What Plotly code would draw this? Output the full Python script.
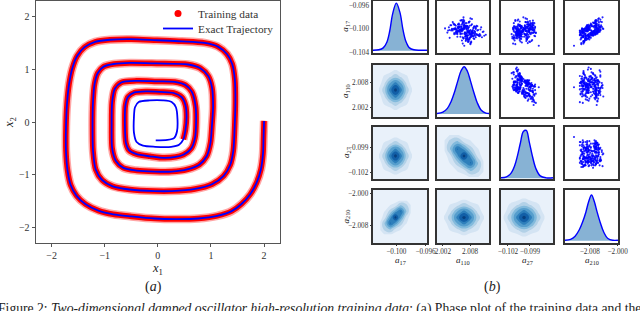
import plotly.graph_objects as go

# ---------------- Panel (a): phase-plot trajectory ----------------
traj_x = [2.00, 1.99, 1.98, 1.94, 1.86, 1.74, 1.58, 1.39, 1.12, 0.76, 0.35, -0.06, -0.50, -0.84, -1.12,
          -1.36, -1.53, -1.64, -1.70, -1.73, -1.73, -1.71, -1.67, -1.61, -1.52, -1.38, -1.18, -0.90, -0.50,
          -0.02, 0.45, 0.88, 1.13, 1.30, 1.40, 1.45, 1.46, 1.45, 1.42, 1.36, 1.24, 1.02, 0.70, 0.26, -0.06,
          -0.53, -0.85, -1.05, -1.17, -1.22, -1.23, -1.22, -1.19, -1.13, -1.02, -0.83, -0.53, -0.02, 0.57,
          0.80, 0.95, 1.02, 1.04, 1.02, 0.99, 0.92, 0.78, 0.55, 0.26, -0.06,
          -0.40, -0.65, -0.79, -0.86, -0.87, -0.86, -0.81, -0.69, -0.40, -0.02, 0.32, 0.52, 0.64, 0.71, 0.72,
          0.70, 0.63, 0.48, 0.13, -0.15,
          -0.40, -0.54, -0.60, -0.62, -0.61, -0.56, -0.44, -0.21, 0.05, 0.30, 0.45, 0.52, 0.54, 0.52, 0.48,
          0.40, 0.25, -0.05, -0.28, -0.40, -0.45, -0.45, -0.43, -0.36, -0.15, 0.10, 0.26, 0.34, 0.37, 0.36,
          0.31, 0.18, -0.04]
traj_y = [0.02, -0.30, -0.60, -0.90, -1.15, -1.37, -1.55, -1.69, -1.78, -1.83, -1.84, -1.83, -1.79, -1.75, -1.68,
          -1.56, -1.40, -1.20, -0.92, -0.55, -0.10, 0.35, 0.73, 1.02, 1.25, 1.42, 1.52, 1.56, 1.57,
          1.55, 1.53, 1.50, 1.43, 1.29, 1.10, 0.80, 0.40, 0.00, -0.55, -0.82, -1.02, -1.18, -1.27, -1.31, -1.31,
          -1.28, -1.22, -1.10, -0.90, -0.55, -0.06, 0.40, 0.73, 0.93, 1.05, 1.10, 1.12, 1.11, 1.09,
          1.02, 0.87, 0.65, 0.30, -0.05, -0.40, -0.65, -0.81, -0.90, -0.94, -0.94,
          -0.92, -0.87, -0.74, -0.50, -0.06, 0.38, 0.63, 0.75, 0.78, 0.77, 0.76, 0.70, 0.57, 0.30, 0.00,
          -0.30, -0.50, -0.62, -0.68, -0.65,
          -0.61, -0.54, -0.40, -0.06, 0.32, 0.48, 0.56, 0.58, 0.57, 0.55, 0.47, 0.32, 0.10, -0.15, -0.33,
          -0.43, -0.47, -0.47, -0.45, -0.38, -0.20, 0.10, 0.28, 0.38, 0.41, 0.41, 0.38, 0.28, 0.05, -0.18,
          -0.30, -0.34, -0.35]
train_end = 105          # training data covers traj[0:train_end]
phase_ticks = [-2, -1, 0, 1, 2]
phase_ticktext = ["\u22122", "\u22121", "0", "1", "2"]
phase_range = [-2.3, 2.3]

# ---------------- Panel (b): posterior samples (standardised draws, read/estimated) ----------------
var_labels = ["<i>a</i><sub>17</sub>", "<i>a</i><sub>110</sub>", "<i>a</i><sub>27</sub>", "<i>a</i><sub>210</sub>"]
post_mean = [-0.1004, 2.0069, -0.0999, -2.0079]
post_sd = [0.0009, 0.0017, 0.0010, 0.0021]

a17_z = [0.3, -1.2, 0.8, -0.4, 1.5, -0.1, 0.6, -2.1, 1.1, -0.7,
         0.0, 0.9, -1.5, 0.2, -0.3, 1.8, -0.9, 0.4, -0.6, 1.3,
         -1.1, 0.1, 2.2, -0.2, 0.7, -1.8, 0.5, -0.5, 1.0, -1.3,
         0.2, -0.8, 1.6, -0.4, 0.3, -2.5, 0.9, -0.1, 1.2, -1.0,
         0.0, 0.6, -1.6, 0.4, -0.3, 2.0, -0.7, 0.8, -1.4, 0.1,
         -0.2, 1.4, -0.9, 0.5, -0.6, 1.7, -1.2, 0.2, -0.4, 0.9,
         -2.0, 0.3, 1.1, -0.8, 0.0, 0.7, -1.3, 0.4, -0.1, 2.6,
         -0.5, 0.6, -1.7, 0.2, 1.0, -0.6, 0.3, -1.1, 1.5, -0.2,
         0.8, -0.9, 0.1, -2.3, 1.2, -0.3, 0.5, -1.0, 0.9, -0.4,
         1.9, -0.7, 0.0, -1.5, 0.6, 0.4, -0.2, 1.3, -1.2, 0.7,
         -0.8, 0.2, 2.3, -0.6, 0.1, -1.9, 0.8, -0.3, 1.1, -1.4,
         0.5, -0.1, 1.6, -0.9, 0.3, -0.5, 1.0, -2.8, 0.4, -0.7,
         -0.4, 0.9, 0.1, -1.3, 0.6, 1.2, -0.8, 0.0, 1.7, -0.2,
         0.5, -1.0, -0.3, 0.8, -1.9, 0.3, 1.0, -0.5, 0.2, -0.7,
         1.3, -0.1, -1.2, 0.4, 0.7, -0.6, 2.1, -0.9, 0.0, 0.6,
         -1.5, 0.2, 0.9, -0.3, -0.8, 1.5, -0.4, 0.3, -2.2, 1.1,
         0.1, -0.6, 0.4, 1.8, -1.1, 0.0, -0.2, 0.8, 0.5, -1.4,
         -0.7, 1.0, -0.1, 0.3, 2.4, -0.9, 0.6, -1.6, 0.2, -0.3,
         0.9, -0.4, 1.4, -1.0, 0.1, -0.5, 0.7, -1.2, 1.1, 0.0,
         -0.2, 0.4, -2.0, 0.6, -0.8, 1.2, 0.3, -0.1, -0.6, 1.6,
         0.2, -1.3, 0.8, -0.4, 0.0, 1.9, -0.7, 0.5, -1.0, 0.3,
         -0.5, 0.7, -0.2, 1.3, -1.7, 0.1, 0.9, -0.3, 0.4, -0.9,
         1.0, -0.1, 0.6, -1.4, 0.3, -0.6, 2.0, -0.8, 0.2, -0.2,
         -1.1, 0.5, -0.3, 0.8, 0.0, -2.4, 1.2, -0.5, 0.7, 0.1]
a110_z = [-0.5, 0.7, 1.2, -1.4, 0.2, 0.9, -0.8, 0.4, -0.1, 1.6,
          -1.1, 0.3, 0.6, -2.0, 1.0, -0.3, 0.1, 1.4, -0.6, -0.9,
          0.8, -1.6, -0.2, 0.5, 2.1, -0.4, 1.1, -1.2, 0.0, 0.6,
          -0.7, 1.8, -0.3, 0.2, -1.3, 0.7, -0.5, 2.4, -0.9, 0.3,
          1.2, -0.1, 0.4, -1.7, 0.9, -0.6, 1.5, 0.1, -0.2, -2.2,
          0.6, -0.8, 1.0, 0.2, -1.4, 0.5, -0.3, 1.7, -1.0, 0.0,
          0.4, -1.1, 0.8, 2.0, -0.5, -0.9, 0.3, -1.5, 1.3, -0.2,
          -0.4, 1.1, 0.1, -0.7, 0.6, 1.9, -1.2, 0.0, -0.3, 0.9,
          1.4, 0.2, -1.8, 0.7, -0.1, 0.5, -2.6, 1.0, 0.3, -0.6,
          -0.2, 0.8, -0.9, 1.2, 0.0, -1.3, 0.6, -0.4, 2.2, -0.8,
          0.3, -0.5, 0.9, -1.0, 1.6, 0.1, -0.7, 0.4, -1.9, 1.1,
          -1.2, 0.5, -0.2, 0.8, -0.6, 1.3, 0.2, -0.1, -1.4, 2.7,
          0.6, -0.2, -1.0, 0.3, 1.4, -0.7, 0.1, 0.9, -1.6, 0.4,
          -0.3, 1.1, 0.0, -0.8, 0.5, 2.0, -1.2, 0.2, -0.5, 0.8,
          -1.4, 0.3, 0.7, -0.1, -2.1, 0.9, -0.4, 1.3, 0.6, -0.9,
          0.2, -0.6, 1.6, -1.1, 0.4, 0.0, 1.0, -0.3, 0.8, -1.8,
          -0.7, 1.5, -0.2, 0.6, -1.0, 0.3, 2.3, -0.5, -1.3, 0.1,
          1.2, 0.0, -0.9, -0.4, 0.7, 1.8, -0.1, 0.5, -0.6, -2.3,
          0.3, 0.9, -1.5, 0.1, -0.3, 0.6, -0.8, 1.4, -0.2, 1.0,
          -1.0, 0.4, 0.8, -0.5, 1.7, -1.3, 0.2, -0.7, 0.0, 0.5,
          0.7, -2.0, 0.2, 1.1, -0.4, -0.1, 0.6, -0.9, 1.9, -0.6,
          -0.1, 0.5, -1.2, 0.9, 0.3, -0.8, 1.2, 0.0, -0.4, 2.5,
          1.5, -0.7, 0.4, -0.2, -1.7, 0.8, -0.5, 0.1, 1.0, -1.1,
          -0.6, 0.2, 1.3, -0.9, 0.6, -0.3, -1.4, 0.7, -0.1, 0.4]
a27_z = [0.9, -1.3, -0.3, 1.2, -1.3, -0.3, 0.0, 0.9, -0.7, -0.7,
         0.3, 0.7, -1.3, 1.4, -0.3, -0.5, 1.5, -0.9, 1.0, -0.7,
         -0.2, 1.3, -0.7, 0.8, -0.8, -1.2, 0.0, 0.1, 0.9, -0.5,
         -0.6, -0.5, 1.3, -0.4, 1.5, -1.1, -1.3, -0.7, 0.5, 1.6,
         -0.3, -1.2, 0.5, 1.0, -0.8, 1.3, -1.0, 0.5, -0.8, 1.5,
         -0.8, 1.3, -0.4, -1.4, 0.5, 0.3, 0.4, -1.3, 1.7, -0.8,
         0.8, 0.1, 0.2, -1.3, -0.9, 0.6, 0.6, 0.2, -0.2, 0.0,
         -0.5, -0.3, 1.2, 0.3, 0.2, -1.6, 0.8, -1.5, 1.0, -0.5,
         -0.3, -0.9, 0.7, 0.6, -0.5, 1.1, 1.4, -0.8, -1.2, 0.9,
         -1.1, 0.3, 0.4, -0.3, 1.6, 0.3, -1.1, 0.7, -0.9, -0.2,
         0.4, -0.1, 0.5, -0.2, -0.7, 1.1, -1.0, -0.2, 1.4, -1.5,
         0.8, -1.3, 0.7, 0.4, -0.1, -0.4, -0.3, 2.1, 0.1, -0.9,
         0.5, -0.5, 0.7, -1.3, -0.3, 1.2, -0.4, 0.8, 0.3, -0.2,
         -0.9, -0.3, 1.4, 0.2, 0.4, -1.4, 0.7, -0.9, 0.8, 0.7,
         0.9, 0.6, -1.2, -0.4, 1.2, 0.2, -1.1, -0.4, 0.7, 0.3,
         0.4, -0.9, -0.5, 1.4, -0.8, 1.5, -0.6, -0.6, -0.2, 1.3,
         0.0, -0.6, -1.0, 0.6, 0.8, -0.9, -0.8, 1.6, 0.5, -1.0,
         -0.5, 1.0, 0.0, -0.7, 0.3, -0.7, -1.4, 0.5, 0.0, 1.7,
         1.1, -0.7, 1.1, 0.6, -0.9, -0.8, 1.3, -0.6, -0.5, -0.1,
         -0.1, 0.7, -0.4, -1.1, -0.5, 0.9, 1.0, -0.1, -0.8, 0.5,
         0.0, 0.6, 1.2, -0.8, -0.5, 0.9, -0.3, -0.7, -0.5, 1.2,
         -0.9, 0.3, 0.8, 0.6, -0.5, -0.8, -0.2, 0.8, 0.1, -1.0,
         -0.4, -0.5, 0.9, -0.4, 1.1, 0.2, -0.8, 0.3, -0.7, 1.5,
         0.1, 1.2, -1.1, 0.5, 0.4, -1.4, 0.8, -1.0, 1.0, -0.5]
a210_z = [-0.2, -0.1, 0.8, -1.1, 0.7, 1.0, -0.3, -0.8, 1.5, -0.7,
          0.7, -0.5, -0.7, 1.0, -0.8, 1.4, -0.6, -1.1, 0.8, 0.8,
          -0.9, 0.6, 1.4, -0.9, 1.4, -0.7, -1.1, 0.3, 0.1, 0.1,
          1.4, -0.9, 0.4, 0.0, -0.9, -1.2, 1.3, -0.3, -0.2, -0.1,
          -0.8, 0.8, -0.1, -0.1, 0.4, 0.7, -1.4, 1.6, -0.6, -1.4,
          0.4, 0.1, -0.4, 1.7, -0.6, 1.6, -1.2, -0.8, 0.6, 0.2,
          -0.9, -1.0, 1.1, 0.2, -0.4, 1.3, -0.6, -0.4, 0.9, 1.7,
          -0.9, 0.6, -0.5, -1.0, 0.9, 0.4, 1.4, -1.0, 0.5, -1.0,
          1.4, -0.4, -0.6, -1.2, 0.2, -1.4, 0.9, -0.2, 0.4, 0.8,
          0.8, 0.7, 0.5, -0.5, -0.4, 0.9, -1.1, 0.8, -0.9, -0.2,
          0.3, -0.4, 1.1, -1.3, 1.4, -0.9, 0.5, 0.5, -0.4, -1.2,
          -0.7, 0.5, 1.2, -0.2, 1.1, -0.7, -0.1, -2.2, 1.8, -0.2,
          0.1, -0.2, 1.1, -0.6, 0.0, 1.2, -1.4, 0.6, 0.8, 1.1,
          -0.2, -0.2, -1.0, 1.2, -0.8, -0.9, 0.8, 0.6, -0.5, -0.3,
          0.8, 0.9, -1.0, -0.6, 1.0, 0.0, 0.8, -0.6, 1.3, -0.3,
          -0.3, -0.2, 0.7, 0.9, -1.2, 0.7, 0.6, -1.0, -0.9, 0.7,
          -1.2, 0.1, 1.1, 0.7, -0.6, -0.6, 1.3, 0.8, -0.6, -0.6,
          0.3, 0.6, -1.1, 0.7, 1.2, 0.4, -0.2, -1.3, 1.2, -1.0,
          -0.1, 1.0, 0.9, -0.9, 0.9, -1.3, 0.8, -0.1, -0.4, 0.2,
          0.8, -0.3, -0.9, -0.3, 0.5, 0.8, -1.1, 0.4, -0.2, 0.6,
          -0.1, -0.2, -0.4, 0.2, -1.4, 1.1, 0.3, 1.3, -0.9, 0.7,
          0.1, -0.5, 1.1, 0.9, -0.7, -0.4, 0.3, 0.6, -0.8, 0.1,
          0.7, -0.5, -0.4, -0.3, 1.1, 0.7, 0.9, -1.1, 0.1, -1.3,
          -1.0, 1.1, 0.2, -0.5, 0.2, -0.9, 0.1, 1.0, -0.4, 1.0]
samples_z = [a17_z, a110_z, a27_z, a210_z]

# axis ranges / ticks for the 4x4 grid
col_ranges = [[-0.1032, -0.0958], [2.0007, 2.0122], [-0.10295, -0.09586], [-2.0151, -1.9999]]
row_ranges = [[-0.10417, -0.09517], [1.9996, 2.01208], [-0.10284, -0.0966], [-2.0125, -1.99925]]
col_tickvals = [[-0.100, -0.096], [2.002, 2.008], [-0.102, -0.099], [-2.008, -2.000]]
col_ticktext = [["\u22120.100", "\u22120.096"], ["2.002", "2.008"], ["\u22120.102", "\u22120.099"], ["\u22122.008", "\u22122.000"]]
row_tickvals = [[-0.104, -0.100, -0.096], [2.002, 2.008], [-0.102, -0.099], [-2.008, -2.000]]
row_ticktext = [["\u22120.104", "\u22120.100", "\u22120.096"], ["2.002", "2.008"], ["\u22120.102", "\u22120.099"], ["\u22122.008", "\u22122.000"]]

# 1-D marginal densities (diagonal), heights normalised to peak
kde1d_x = [
    [-0.1032, -0.1024, -0.1018, -0.1013, -0.1009, -0.1005, -0.1000, -0.0995, -0.0991, -0.0987, -0.0982, -0.0976, -0.0968, -0.0958],
    [2.0007, 2.0020, 2.0030, 2.0038, 2.0046, 2.0053, 2.0060, 2.0067, 2.0074, 2.0081, 2.0088, 2.0096, 2.0105, 2.0115, 2.0122],
    [-0.10295, -0.1022, -0.1016, -0.1011, -0.1007, -0.1003, -0.0999, -0.0995, -0.0991, -0.0987, -0.0982, -0.0976, -0.0968, -0.09586],
    [-2.0151, -2.0135, -2.0122, -2.0110, -2.0100, -2.0091, -2.0083, -2.0075, -2.0067, -2.0059, -2.0050, -2.0040, -2.0028, -2.0014, -1.9999],
]
kde1d_h = [
    [0.01, 0.02, 0.06, 0.18, 0.42, 0.78, 1.0, 0.8, 0.45, 0.2, 0.06, 0.02, 0.01, 0.01],
    [0.01, 0.04, 0.12, 0.26, 0.47, 0.7, 0.91, 1.0, 0.91, 0.7, 0.47, 0.24, 0.08, 0.02, 0.01],
    [0.01, 0.03, 0.1, 0.25, 0.46, 0.72, 0.95, 0.97, 0.74, 0.47, 0.2, 0.05, 0.01, 0.01],
    [0.01, 0.03, 0.1, 0.24, 0.42, 0.63, 0.86, 1.0, 0.86, 0.63, 0.4, 0.19, 0.05, 0.01, 0.01],
]
diag_yrange = [[-0.048, 1.056], [-0.063, 1.036], [-0.014, 1.04], [-0.05, 1.11]]

# 2-D densities (lower triangle): grid centre/step and density levels (row 0 = bottom)
kde_round = [[0, 0, 0, 1, 0, 0, 0],
             [0, 1, 2, 3, 2, 1, 0],
             [0, 2, 5, 7, 5, 2, 0],
             [1, 3, 7, 10, 7, 3, 1],
             [0, 2, 5, 7, 5, 2, 0],
             [0, 1, 2, 3, 2, 1, 0],
             [0, 0, 0, 1, 0, 0, 0]]
kde_pos = [[0, 1, 1, 0, 0, 0, 0],
           [1, 3, 4, 2, 1, 0, 0],
           [1, 4, 8, 6, 3, 1, 0],
           [0, 2, 6, 10, 6, 2, 0],
           [0, 1, 3, 6, 8, 4, 1],
           [0, 0, 1, 2, 4, 3, 1],
           [0, 0, 0, 0, 1, 1, 0]]
kde_neg = [[0, 0, 0, 0, 1, 1, 0],
           [0, 0, 1, 2, 4, 3, 1],
           [0, 1, 3, 6, 8, 4, 1],
           [0, 2, 6, 10, 6, 2, 0],
           [1, 4, 8, 6, 3, 1, 0],
           [1, 3, 4, 2, 1, 0, 0],
           [0, 1, 1, 0, 0, 0, 0]]
# (row, col): (centre_x, step_x, centre_y, step_y, levels)
kde2d = {
    (1, 0): (-0.10012, 0.00076, 2.00608, 0.0016, kde_round),
    (2, 0): (-0.10012, 0.00076, -0.10008, 0.00075, kde_round),
    (3, 0): (-0.10012, 0.00070, -2.00612, 0.00142, kde_pos),
    (2, 1): (2.00667, 0.00145, -0.10008, 0.00084, kde_neg),
    (3, 1): (2.00667, 0.00148, -2.00612, 0.0015, kde_round),
    (3, 2): (-0.09981, 0.00094, -2.00612, 0.0016, kde_round),
}

# ---------------- figure ----------------
W, H = 640, 311
fig = go.Figure()
serif = "Liberation Serif"

fig.add_trace(go.Scatter(x=[None], y=[None], mode="markers", name="Training data", legend="legend",
                         marker=dict(color="red", size=7), xaxis="x", yaxis="y"))
fig.add_trace(go.Scatter(x=traj_x[:train_end], y=traj_y[:train_end], mode="lines", showlegend=False,
                         line=dict(color="rgba(255,0,0,0.35)", width=8.5, shape="spline", smoothing=0.8),
                         xaxis="x", yaxis="y", hoverinfo="skip"))
fig.add_trace(go.Scatter(x=traj_x[:train_end], y=traj_y[:train_end], mode="lines", showlegend=False,
                         line=dict(color="red", width=5.5, shape="spline", smoothing=0.8),
                         xaxis="x", yaxis="y", hoverinfo="skip"))
fig.add_trace(go.Scatter(x=traj_x, y=traj_y, mode="lines", name="Exact Trajectory", legend="legend2",
                         line=dict(color="blue", width=1.8, shape="spline", smoothing=0.8),
                         xaxis="x", yaxis="y"))

axis_common = dict(automargin=False, showgrid=False, zeroline=False)
leg_common = dict(xanchor="left", yanchor="top", bgcolor="rgba(0,0,0,0)", borderwidth=0,
                  font=dict(family=serif, size=11.3, color="#333"), tracegroupgap=0)
layout = dict(
    template="none",
    width=W, height=H, margin=dict(l=0, r=0, t=0, b=0, pad=0, autoexpand=False), autosize=False,
    paper_bgcolor="white", plot_bgcolor="white", showlegend=True,
    font=dict(family=serif, color="#222"),
    legend=dict(x=158 / W, y=1 + 1 / H, **leg_common),
    legend2=dict(x=158 / W, y=1 - 14 / H, **leg_common),
    xaxis=dict(domain=[35.7 / W, 280 / W], range=phase_range, tickvals=phase_ticks, ticktext=phase_ticktext,
               showline=True, mirror=True, linecolor="#555", linewidth=1.2, ticks="outside", ticklen=3,
               tickcolor="#555", tickfont=dict(size=10, color="#333"), anchor="y", **axis_common),
    yaxis=dict(domain=[1 - 243.3 / H, 1 - 0.7 / H], range=phase_range, tickvals=phase_ticks, ticktext=phase_ticktext,
               showline=True, mirror=True, linecolor="#555", linewidth=1.2, ticks="outside", ticklen=3,
               tickcolor="#555", tickfont=dict(size=10, color="#333"), anchor="x", **axis_common),
)

col_px = [(373, 427), (437, 489), (501, 553), (565, 618)]
row_py = [(0.5, 53), (65, 117), (127, 179), (190, 243)]
shapes = []
annotations = []
for r in range(4):
    for c in range(4):
        n = 2 + r * 4 + c
        xa, ya = "x%d" % n, "y%d" % n
        xd = [col_px[c][0] / W, col_px[c][1] / W]
        yd = [1 - row_py[r][1] / H, 1 - row_py[r][0] / H]
        xax = dict(domain=xd, range=col_ranges[c], anchor=ya, showline=True, mirror=True,
                   linecolor="#333", linewidth=1.6, tickvals=col_tickvals[c], ticktext=col_ticktext[c],
                   tickfont=dict(size=7.2, color="#333"), tickangle=0,
                   showticklabels=(r == 3), ticks="outside" if r == 3 else "", ticklen=1, tickcolor="#333",
                   **axis_common)
        yax = dict(domain=yd, anchor=xa, showline=True, mirror=True, linecolor="#333", linewidth=1.6,
                   tickfont=dict(size=7.2, color="#333"), **axis_common)
        if r == c:
            yax.update(range=diag_yrange[r], showticklabels=False, ticks="")
            fig.add_trace(go.Scatter(x=kde1d_x[c], y=kde1d_h[c], mode="lines", fill="tozeroy",
                                     fillcolor="rgba(135,178,212,1)", line=dict(color="blue", width=1.4, shape="spline"),
                                     showlegend=False, xaxis=xa, yaxis=ya, hoverinfo="skip"))
        else:
            yax.update(range=row_ranges[r], tickvals=row_tickvals[r], ticktext=row_ticktext[r],
                       showticklabels=(c == 0), ticks="outside" if c == 0 else "", ticklen=1.5, tickcolor="#333")
            if c > r:
                xs = [post_mean[c] + post_sd[c] * z for z in samples_z[c]]
                ys = [post_mean[r] + post_sd[r] * z for z in samples_z[r]]
                fig.add_trace(go.Scatter(x=xs, y=ys, mode="markers", showlegend=False,
                                         marker=dict(color="rgba(0,0,255,0.85)", size=2.1, line=dict(width=0)),
                                         xaxis=xa, yaxis=ya, hoverinfo="skip"))
            else:
                cx, sx, cy, sy, lev = kde2d[(r, c)]
                gx = [cx + sx * k for k in range(-3, 4)]
                gy = [cy + sy * k for k in range(-3, 4)]
                shapes.append(dict(type="rect", xref=xa + " domain", yref=ya + " domain", x0=0, x1=1, y0=0, y1=1,
                                   fillcolor="#e9f1fa", line=dict(width=0), layer="below"))
                fig.add_trace(go.Contour(x=gx, y=gy, z=lev, showscale=False, zmin=0, zmax=10,
                                         contours=dict(start=0.8, end=9.2, size=1.4, coloring="fill", showlines=False),
                                         line=dict(smoothing=1.3, width=0),
                                         colorscale=[[0, "#e9f1fa"], [0.15, "#d3e3f3"], [0.3, "#aecfe6"],
                                                     [0.5, "#6aaed6"], [0.7, "#3182bd"], [0.85, "#1361a9"], [1, "#08407f"]],
                                         xaxis=xa, yaxis=ya, hoverinfo="skip"))
        if r == 0 and c == 0:
            yax.update(showticklabels=False)
        layout["xaxis%d" % n] = xax
        layout["yaxis%d" % n] = yax

# overlay axis carrying the a17 ticks on the top-left diagonal panel
layout["yaxis18"] = dict(overlaying="y2", anchor="x2", side="left", range=row_ranges[0],
                         tickvals=row_tickvals[0], ticktext=row_ticktext[0], tickfont=dict(size=7.2, color="#333"),
                         showline=False, ticks="outside", ticklen=1.5, tickcolor="#333", **axis_common)
fig.add_trace(go.Scatter(x=[None], y=[None], xaxis="x2", yaxis="y18", showlegend=False, hoverinfo="skip"))


def note(text, px, py, size, angle=0, anchor="center"):
    return dict(text=text, x=px / W, y=1 - py / H, xref="paper", yref="paper", showarrow=False,
                xanchor=anchor, yanchor="middle", textangle=angle,
                font=dict(family=serif, size=size, color="#222"))


for i in range(4):
    annotations.append(note(var_labels[i], 346, (row_py[i][0] + row_py[i][1]) / 2, 9, angle=-90))
    annotations.append(note(var_labels[i], (col_px[i][0] + col_px[i][1]) / 2, 260, 9))
annotations += [
    note("<i>x</i><sub>1</sub>", 157, 268.5, 12.5),
    note("<i>x</i><sub>2</sub>", 10, 123, 12.5, angle=-90),
    note("(<i>a</i>)", 153, 287, 14),
    note("(<i>b</i>)", 492, 287, 14),
    note("Figure 2: <i>Two-dimensional damped oscillator high-resolution training data</i>; (a) Phase plot of the training data and the exact trajectory",
         -4, 309, 13.65, anchor="left"),
]
layout["annotations"] = annotations
layout["shapes"] = shapes
fig.update_layout(**layout)
fig.write_html("out.html", config={"displayModeBar": False},
               post_script="document.body.style.margin='0';document.body.style.overflow='hidden';")
